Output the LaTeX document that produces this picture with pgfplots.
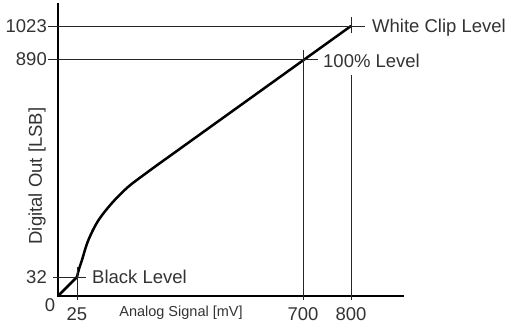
\documentclass[border=0pt]{standalone}
\usepackage{fontspec}
\setmainfont{Liberation Sans}
\usepackage{pgfplots}
\pgfplotsset{compat=1.18}
\begin{document}
\fontsize{18.5bp}{22bp}\selectfont
\begin{tikzpicture}
\useasboundingbox (-58bp,-27bp) rectangle (452bp,296bp);
\begin{axis}[
  x=1bp, y=1bp,
  xmin=0, xmax=346, ymin=0, ymax=293,
  axis lines=left,
  axis line style={-, line width=1.6bp, black},
  clip=false,
  enlargelimits=false,
  xtick={19,245,293}, xticklabels={25,700,800},
  ytick={19,237,270}, yticklabels={32,890,1023},
  tick style={draw=none},
  major tick length=0pt,
  xticklabel style={anchor=north, inner sep=0pt, yshift=-11bp, text=black!80},
  yticklabel style={anchor=east, inner sep=0pt, xshift=-11bp, text=black!80},
  xlabel={Analog Signal [mV]},
  xlabel style={font=\fontsize{14.5bp}{17bp}\selectfont, at={(axis description cs:0.3555,-0.058)}, anchor=center, inner sep=0pt, text=black!80},
  ylabel={Digital Out [LSB]},
  ylabel style={at={(axis description cs:-0.0607,0.4096)}, anchor=center, inner sep=0pt, text=black!80},
]
% transfer curve
\addplot[line width=2.5bp, black, line cap=round] coordinates {(0,0) (19,19)};
\addplot[line width=2.5bp, black, smooth, tension=0.55, line cap=round] coordinates {
  (19,19) (21,27) (24,36) (30,55) (40,75) (54,93) (70,109) (87,122) (100,131.5)};
\addplot[line width=2.5bp, black, line cap=round] coordinates {(100,131.5) (293,270)};
% reference lines
\addplot[line width=0.9bp, black!85] coordinates {(-10,270) (307,270)};
\addplot[line width=0.9bp, black!85] coordinates {(-10,237) (260,237)};
\addplot[line width=0.9bp, black!85] coordinates {(-5,19) (28,19)};
\addplot[line width=0.9bp, black!85] coordinates {(19,-4) (19,29)};
\addplot[line width=0.9bp, black!85] coordinates {(245,-4) (245,246)};
\addplot[line width=0.9bp, black!85] coordinates {(293,-4) (293,221)};
\addplot[line width=0.9bp, black!85] coordinates {(293,263) (293,279)};
% labels
\node[anchor=base west, inner sep=0pt, text=black!80] at (axis cs:314,264) {White Clip Level};
\node[anchor=base west, inner sep=0pt, text=black!80] at (axis cs:265,229) {100\% Level};
\node[anchor=base west, inner sep=0pt, text=black!80] at (axis cs:34,13) {Black Level};
\node[anchor=center, inner sep=0pt, text=black!80] at (axis cs:-8,-9) {0};
\end{axis}
\end{tikzpicture}
\end{document}
